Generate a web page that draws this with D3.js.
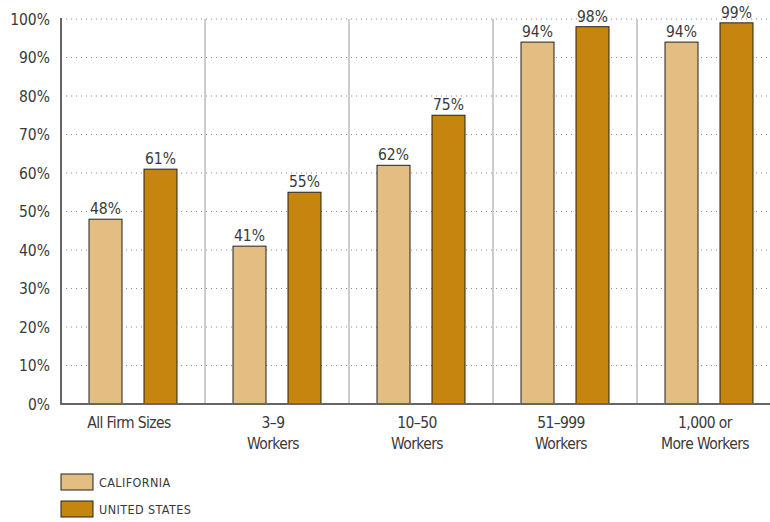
<!DOCTYPE html>
<html>
<head>
<meta charset="utf-8">
<script src="https://cdn.jsdelivr.net/npm/d3@7"></script>
<style>
  html, body { margin: 0; padding: 0; background: #fff; }
  svg { display: block; font-family: "Liberation Sans Narrow", "DejaVu Sans Condensed", "Open Sans", sans-serif; }
</style>
</head>
<body>
<svg id="chart" width="770" height="522"></svg>
<script>
// Share of firms offering health benefits, by firm size
const categories = [["All Firm Sizes"], ["3\u20139", "Workers"], ["10\u201350", "Workers"], ["51\u2013999", "Workers"], ["1,000 or", "More Workers"]];
const seriesNames = ["CALIFORNIA", "UNITED STATES"];
const california = [48, 41, 62, 94, 94];
const unitedStates = [61, 55, 75, 98, 99];
const yTicks = [0, 10, 20, 30, 40, 50, 60, 70, 80, 90, 100];
const colors = ["#E3BD81", "#C5850F"];

const svg = d3.select("#chart");
const plotLeft = 61, plotRight = 781, plotTop = 19, plotBottom = 404;

const x = d3.scaleBand().domain(d3.range(categories.length)).range([plotLeft, plotRight]).padding(0);
const inner = d3.scaleBand().domain([0, 1]).range([28, 116]).paddingInner(0.4).paddingOuter(0);
const y = d3.scaleLinear().domain([0, 100]).range([plotBottom, plotTop]);

// dotted gridlines
svg.append("g").selectAll("line").data(yTicks.filter(d => d > 0)).join("line")
  .attr("x1", plotLeft).attr("x2", 770)
  .attr("y1", d => y(d)).attr("y2", d => y(d))
  .attr("stroke", "#888").attr("stroke-width", 1)
  .attr("stroke-dasharray", "1,4");

// group separators
svg.append("g").selectAll("line").data(d3.range(1, categories.length)).join("line")
  .attr("x1", d => x(d)).attr("x2", d => x(d))
  .attr("y1", plotTop).attr("y2", plotBottom)
  .attr("stroke", "#bdbdbd").attr("stroke-width", 1.5);

// y axis labels
svg.append("g").selectAll("text").data(yTicks).join("text")
  .attr("x", 50).attr("y", d => y(d) + 5.5)
  .attr("text-anchor", "end")
  .attr("font-size", 15.5).attr("fill", "#3a3a3a")
  .text(d => d + "%");

// bars
const series = [california, unitedStates];
series.forEach((vals, si) => {
  const g = svg.append("g");
  g.selectAll("rect").data(vals).join("rect")
    .attr("x", (d, i) => x(i) + inner(si))
    .attr("y", d => y(d))
    .attr("width", inner.bandwidth())
    .attr("height", d => plotBottom - y(d))
    .attr("fill", colors[si])
    .attr("stroke", "#222").attr("stroke-width", 1);
  g.selectAll("text").data(vals).join("text")
    .attr("x", (d, i) => x(i) + inner(si) + inner.bandwidth() / 2)
    .attr("y", d => y(d) - 5)
    .attr("text-anchor", "middle")
    .attr("font-size", 15.5).attr("fill", "#3a3a3a")
    .text(d => d + "%");
});

// axis lines
svg.append("line").attr("x1", plotLeft).attr("x2", plotLeft).attr("y1", plotTop - 1).attr("y2", plotBottom + 1)
  .attr("stroke", "#666").attr("stroke-width", 2);
svg.append("line").attr("x1", plotLeft).attr("x2", 770).attr("y1", plotBottom).attr("y2", plotBottom)
  .attr("stroke", "#666").attr("stroke-width", 2);

// category labels
const cat = svg.append("g").selectAll("text").data(categories).join("text")
  .attr("text-anchor", "middle")
  .attr("font-size", 15.5).attr("letter-spacing", -0.6).attr("fill", "#3a3a3a");
cat.each(function(lines, i) {
  d3.select(this).selectAll("tspan").data(lines).join("tspan")
    .attr("x", x(i) + x.bandwidth() / 2 - 4)
    .attr("y", (d, j) => 428 + j * 21)
    .text(d => d);
});

// legend
const legend = svg.append("g").selectAll("g").data(seriesNames).join("g")
  .attr("transform", (d, i) => `translate(61, ${474 + i * 27})`);
legend.append("rect").attr("width", 32).attr("height", 16)
  .attr("fill", (d, i) => colors[i]).attr("stroke", "#222").attr("stroke-width", 1);
legend.append("text").attr("x", 38).attr("y", 13)
  .attr("font-size", 12.5).attr("letter-spacing", 0.4).attr("fill", "#3a3a3a")
  .text(d => d);
</script>
</body>
</html>
